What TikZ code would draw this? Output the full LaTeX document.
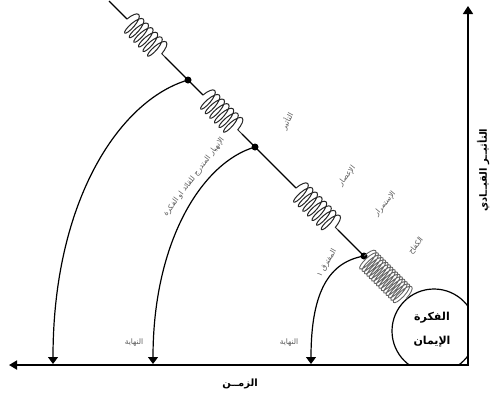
\documentclass[tikz,border=0pt]{standalone}
\usepackage{fontspec}
\newfontfamily\ar[Script=Arabic]{DejaVu Sans}
\TeXXeTstate=1
\usetikzlibrary{decorations.pathmorphing,arrows.meta}
\begin{document}
\begin{tikzpicture}[x=1pt,y=-1pt,
  lbl/.style={font=\ar\fontsize{7.5}{8}\selectfont, text=black!65, inner sep=0pt},
  boldlbl/.style={font=\ar\bfseries\fontsize{10}{11}\selectfont, inner sep=0pt},
  circlbl/.style={font=\ar\bfseries\fontsize{11}{12}\selectfont, inner sep=0pt},
  spring/.style={decorate, decoration={coil, amplitude=11.5pt, segment length=6.5pt, aspect=0.3}, draw=black!85, line width=1pt},
  tightspring/.style={decorate, decoration={coil, amplitude=12pt, segment length=3.4pt, aspect=0.3}, draw=black!60, line width=0.9pt},
  joint/.style={circle, fill=black, inner sep=0pt, minimum size=7pt},
  fall/.style={line width=1.2pt, -{Triangle[width=10pt,length=7pt]}},
  axisline/.style={line width=1.7pt, {Triangle[width=9pt,length=8pt]}-{Triangle[width=10pt,length=8pt]}},
  mainline/.style={line width=1.1pt},
]
\useasboundingbox (0,0) rectangle (497,400);

% axes
\coordinate (O) at (468,365);
\coordinate (xend) at (9,365);
\coordinate (yend) at (468,6);
\draw[axisline] (xend) -- (O) -- (yend);

% circle (clipped by axes)
\begin{scope}
  \clip (0,0) rectangle (467.5,364.5);
  \draw[line width=1.2pt] (434,331) circle[radius=42pt];
\end{scope}
\node[circlbl] (fikra) at (432,318) {\beginR الفكرة\endR};
\node[circlbl] (iman) at (432,342) {\beginR الإيمان\endR};

% joints
\node[joint] (d1) at (188,80) {};
\node[joint] (d2) at (255,147) {};
\node[joint] (d3) at (364,256) {};

% spring coordinates
\coordinate (top) at (109,1);
\coordinate (s1a) at (127,19);
\coordinate (s1b) at (165,57);
\coordinate (s2a) at (203,95);
\coordinate (s2b) at (242,134);
\coordinate (s3a) at (296,188);
\coordinate (s3b) at (338,230);
\coordinate (s4b) at (407,299);

% main line and springs
\draw[mainline] (top) -- (s1a);
\draw[spring] (s1a) -- (s1b);
\draw[mainline] (s1b) -- (d1.center) -- (s2a);
\draw[spring] (s2a) -- (s2b);
\draw[mainline] (s2b) -- (d2.center) -- (s3a);
\draw[spring] (s3a) -- (s3b);
\draw[mainline] (s3b) -- (d3.center);
\draw[tightspring] (d3.center) -- (s4b);

% falling arcs
\coordinate (e1) at (53,364);
\coordinate (e2) at (153,364);
\coordinate (e3) at (311,364);
\draw[fall] (d1.center) .. controls (120,100) and (53,200) .. (e1);
\draw[fall] (d2.center) .. controls (203,162) and (153,240) .. (e2);
\draw[fall] (d3.center) .. controls (330,262) and (311,290) .. (e3);

% labels
\node[lbl, rotate=62] (tathir) at (287,121) {\beginR التأثير\endR};
\node[lbl, rotate=52] (iasar) at (347,176) {\beginR الإعصار\endR};
\node[lbl, rotate=50] (istimrar) at (385,204) {\beginR الإستمرار\endR};
\node[lbl, rotate=52] (kifah) at (416,246) {\beginR الكفاح\endR};
\node[lbl, rotate=60] (muftaraq) at (327,263) {\beginR المفترق ١\endR};
\node[lbl, rotate=53] (inhiyar) at (194,177) {\beginR الإنهيار المتدرج للقائد او الفكرة\endR};
\node[lbl] (nihaya1) at (134,343) {\beginR النهاية\endR};
\node[lbl] (nihaya2) at (289,343) {\beginR النهاية\endR};

% axis labels
\node[boldlbl] (zaman) at (240,384) {\beginR الزمــن\endR};
\node[boldlbl, rotate=90] (taathir) at (483,170) {\beginR التأثيــر القيــادي\endR};
\end{tikzpicture}
\end{document}
